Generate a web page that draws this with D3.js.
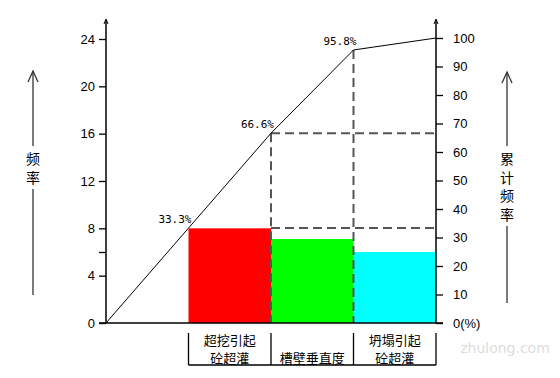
<!DOCTYPE html>
<html>
<head>
<meta charset="utf-8">
<script src="https://cdn.jsdelivr.net/npm/d3@7"></script>
<style>
  body { margin: 0; background: #fff; }
  svg { display: block; }
  .tick text { font-family: "Liberation Sans", Arial, sans-serif; font-size: 13px; fill: #000; }
</style>
</head>
<body>
<svg id="chart" width="560" height="378"></svg>
<script>
// categories (first band is left empty in the original)
const categories = ['', '超挖引起\n砼超灌', '槽壁垂直度', '坍塌引起\n砼超灌'];
const frequency = [0, 8, 7.1, 6];
const cumulativePct = [0, 33.3, 66.6, 95.8, 100];
const cumulativeLabels = ['', '33.3%', '66.6%', '95.8%', ''];
const leftTicks = [0, 4, 6, 8, 12, 16, 20, 24];
const rightTicks = [0, 10, 20, 30, 40, 50, 60, 70, 80, 90, 100];
const barColors = ['none', '#ff0000', '#00ff00', '#00ffff'];

const svg = d3.select('#chart');
const left = 106, right = 436, bottom = 323;

const x = d3.scaleBand().domain(categories).range([left, right]).padding(0);
const xEdge = d3.scaleLinear().domain([0, categories.length]).range([left, right]);
const yLeft = d3.scaleLinear().domain([0, 24]).range([bottom, 39]);
const yRight = d3.scaleLinear().domain([0, 100]).range([bottom, 38]);

// bars
svg.append('g')
	.selectAll('rect')
	.data(categories.slice(1))
	.enter()
	.append('rect')
	.attr('x', (d) => x(d))
	.attr('y', (d, i) => yLeft(frequency[i + 1]))
	.attr('width', x.bandwidth())
	.attr('height', (d, i) => bottom - yLeft(frequency[i + 1]))
	.attr('fill', (d, i) => barColors[i + 1]);

// dashed guide lines
const dash = svg.append('g')
	.attr('stroke', '#555')
	.attr('stroke-width', 2)
	.attr('stroke-dasharray', '9,5')
	.attr('fill', 'none');
[1, 2].forEach((i) => {
	dash.append('line')
		.attr('x1', xEdge(2)).attr('x2', xEdge(4))
		.attr('y1', yRight(cumulativePct[i])).attr('y2', yRight(cumulativePct[i]));
});
[2, 3].forEach((i) => {
	dash.append('line')
		.attr('x1', xEdge(i)).attr('x2', xEdge(i))
		.attr('y1', yRight(cumulativePct[i])).attr('y2', bottom);
});

// cumulative line
const line = d3.line()
	.x((d, i) => xEdge(i))
	.y((d) => yRight(d));
svg.append('path')
	.datum(cumulativePct)
	.attr('d', line)
	.attr('fill', 'none')
	.attr('stroke', '#000')
	.attr('stroke-width', 1);

svg.append('g')
	.selectAll('text')
	.data(cumulativeLabels)
	.enter()
	.append('text')
	.attr('x', (d, i) => xEdge(i) + 3)
	.attr('y', (d, i) => yRight(cumulativePct[i]) - 5)
	.attr('text-anchor', 'end')
	.attr('font-family', '"DejaVu Sans Mono", monospace')
	.attr('font-size', 11)
	.attr('fill', '#000')
	.text((d) => d);

// axes
const leftAxis = svg.append('g')
	.attr('transform', `translate(${left},0)`)
	.call(d3.axisLeft(yLeft).tickValues(leftTicks).tickSize(7).tickPadding(4)
		.tickFormat((d) => (d === 6 ? '' : d)));
const rightAxis = svg.append('g')
	.attr('transform', `translate(${right},0)`)
	.call(d3.axisRight(yRight).tickValues(rightTicks).tickSize(7).tickPadding(10)
		.tickFormat((d) => (d === 0 ? '0(%)' : d)));
[leftAxis, rightAxis].forEach((a) => {
	a.select('.domain').remove();
	a.selectAll('.tick line').attr('stroke', '#000').attr('stroke-width', 1.3);
});

const axisLines = svg.append('g').attr('stroke', '#000').attr('stroke-width', 1.5);
axisLines.append('line').attr('x1', left).attr('x2', left).attr('y1', 20).attr('y2', bottom);
axisLines.append('line').attr('x1', right).attr('x2', right).attr('y1', 20).attr('y2', bottom);
axisLines.append('line').attr('x1', 99).attr('x2', 443).attr('y1', bottom).attr('y2', bottom);
[left, right].forEach((ax) => {
	axisLines.append('path')
		.attr('d', `M${ax - 2},24 L${ax},19 L${ax + 2},24`)
		.attr('fill', 'none')
		.attr('stroke-width', 1);
});

// category brackets below the axis
const bracket = svg.append('g').attr('stroke', '#000').attr('stroke-width', 1.3);
for (let i = 1; i <= categories.length; i++) {
	bracket.append('line')
		.attr('x1', xEdge(i)).attr('x2', xEdge(i))
		.attr('y1', 333).attr('y2', 365);
}
bracket.append('line').attr('x1', xEdge(1)).attr('x2', xEdge(4)).attr('y1', 365).attr('y2', 365);

svg.append('g')
	.selectAll('text')
	.data(categories.slice(1))
	.enter()
	.append('text')
	.attr('text-anchor', 'middle')
	.attr('font-family', '"Noto Sans CJK SC", sans-serif')
	.attr('font-size', 13)
	.attr('fill', '#000')
	.each(function (d) {
		const lines = d.split('\n');
		const t = d3.select(this);
		lines.forEach((s, j) => {
			t.append('tspan')
				.attr('x', x(d) + x.bandwidth() / 2)
				.attr('y', 363 - (lines.length - 1 - j) * 18)
				.text(s);
		});
	});

// vertical axis titles with arrows
function verticalTitle(cx, chars, textTop, lineTop, lineBottom) {
	const g = svg.append('g');
	const step = 18.5;
	const textBottom = textTop + chars.length * step;
	g.append('line').attr('x1', cx).attr('x2', cx).attr('y1', lineTop).attr('y2', textTop - 4)
		.attr('stroke', '#333').attr('stroke-width', 1.3);
	g.append('line').attr('x1', cx).attr('x2', cx).attr('y1', textBottom + 2).attr('y2', lineBottom)
		.attr('stroke', '#333').attr('stroke-width', 1.3);
	g.append('path')
		.attr('d', `M${cx - 5},${lineTop + 11} L${cx},${lineTop} L${cx + 5},${lineTop + 11}`)
		.attr('fill', 'none').attr('stroke', '#333').attr('stroke-width', 1.3);
	g.selectAll('text')
		.data(chars)
		.enter()
		.append('text')
		.attr('x', cx)
		.attr('y', (d, i) => textTop + 14 + i * step)
		.attr('text-anchor', 'middle')
		.attr('font-family', '"Noto Sans CJK SC", sans-serif')
		.attr('font-size', 14)
		.attr('fill', '#000')
		.text((d) => d);
}
verticalTitle(33, ['频', '率'], 150, 71, 295);
verticalTitle(507, ['累', '计', '频', '率'], 150, 72, 303);

// watermark
svg.append('text')
	.attr('x', 505).attr('y', 353)
	.attr('text-anchor', 'middle')
	.attr('font-family', '"DejaVu Sans", sans-serif')
	.attr('font-size', 14)
	.attr('fill', '#ddd')
	.text('zhulong.com');
</script>
</body>
</html>
